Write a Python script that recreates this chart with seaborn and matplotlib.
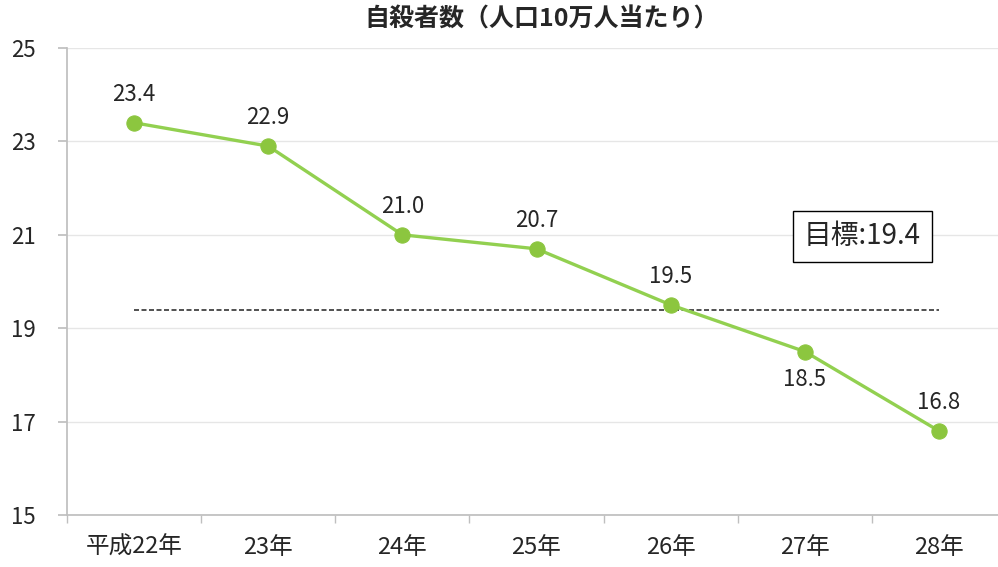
import pandas as pd
import matplotlib.pyplot as plt
import seaborn as sns

years = ["平成22年", "23年", "24年", "25年", "26年", "27年", "28年"]
rates = [23.4, 22.9, 21.0, 20.7, 19.5, 18.5, 16.8]
target = 19.4
label_below = ["27年"]

sns.set_theme(style="white")
plt.rcParams['font.family'] = ['Noto Sans CJK JP', 'DejaVu Sans']

df = pd.DataFrame({"year": years, "rate": rates})
df["x"] = range(len(df))

fig = plt.figure(figsize=(9.98, 5.67), dpi=100)
ax = fig.add_axes([0.0671, 0.0917, 0.941, 0.8236])

sns.lineplot(data=df, x="x", y="rate", color="#92D050", linewidth=2.4,
             marker="o", markersize=11, markerfacecolor="#8CC63F",
             markeredgecolor="#8CC63F", ax=ax, zorder=3)
ax.plot([df["x"].iloc[0], df["x"].iloc[-1]], [target, target],
        color="#333333", linestyle=(0, (3, 1.5)), linewidth=1.2, zorder=2)

for _, r in df.iterrows():
    if r["year"] in label_below:
        ax.annotate(f"{r['rate']:.1f}", (r["x"], r["rate"]), xytext=(0, -12),
                    textcoords="offset points", ha="center", va="top", fontsize=16)
    else:
        ax.annotate(f"{r['rate']:.1f}", (r["x"], r["rate"]), xytext=(0, 12),
                    textcoords="offset points", ha="center", va="bottom", fontsize=16)

ax.text(5.43, 20.97, f"目標:{target}", ha="center", va="center", fontsize=20,
        bbox=dict(boxstyle="square,pad=0.38", facecolor="white", edgecolor="black", linewidth=1))

ax.set_xlim(-0.5, len(years) - 0.5)
ax.set_ylim(15, 25)
ax.set_yticks([15, 17, 19, 21, 23, 25])
ax.set_xticks(df["x"])
ax.set_xticklabels(years)
ax.set_xticks([i - 0.5 for i in range(len(years) + 1)], minor=True)
ax.tick_params(axis="x", which="major", length=0, labelsize=17, pad=15)
ax.tick_params(axis="x", which="minor", length=6, color="#BFBFBF", direction="out", bottom=True)
ax.tick_params(axis="y", length=6.5, color="#BFBFBF", labelsize=16, pad=16, left=True)
ax.grid(axis="y", color="#E6E6E6", linewidth=1)
for s in ["top", "right"]:
    ax.spines[s].set_visible(False)
for s in ["left", "bottom"]:
    ax.spines[s].set_color("#BFBFBF")
ax.set_xlabel("")
ax.set_ylabel("")
fig.text(0.543, 0.966, "自殺者数（人口10万人当たり）", ha="center", va="center",
         fontsize=18, fontweight="bold")

plt.savefig("out.png", dpi=100)
